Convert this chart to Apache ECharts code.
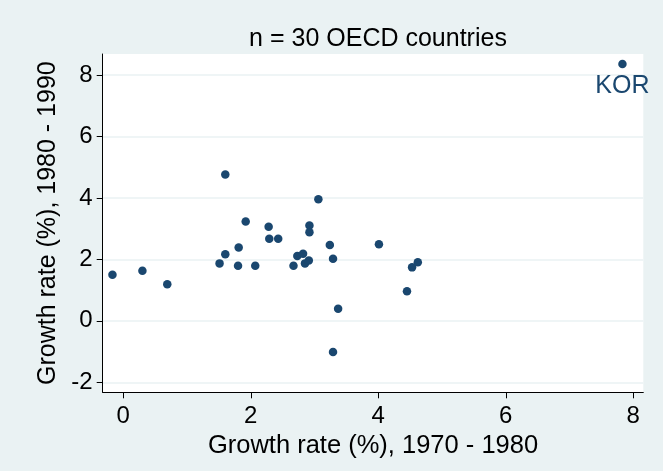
<!DOCTYPE html>
<html>
<head>
<meta charset="utf-8">
<style>
  html, body { margin: 0; padding: 0; background: #EAF2F3; }
  #chart { width: 663px; height: 471px; }
</style>
<script src="https://cdn.jsdelivr.net/npm/echarts@6/dist/echarts.min.js"></script>
</head>
<body>
<div id="chart"></div>
<script>
// Growth rate (%), 1970 - 1980
const growth7080 = [-0.17, 0.30, 0.69, 1.51, 1.60, 1.60, 1.80, 1.81, 1.92, 2.07,
                    2.28, 2.29, 2.43, 2.67, 2.73, 2.82, 2.85, 2.91, 2.92, 2.92,
                    3.06, 3.24, 3.29, 3.37, 3.29, 4.01, 4.45, 4.53, 4.62, 7.83];
// Growth rate (%), 1980 - 1990
const growth8090 = [1.50, 1.63, 1.19, 1.87, 4.76, 2.17, 1.79, 2.39, 3.23, 1.79,
                    3.06, 2.67, 2.67, 1.79, 2.11, 2.18, 1.87, 1.96, 3.10, 2.88,
                    3.96, 2.47, 2.02, 0.39, -1.01, 2.49, 0.96, 1.74, 1.91, 8.36];
// Point labels (only Korea is labelled)
const pointLabels = ['', '', '', '', '', '', '', '', '', '',
                     '', '', '', '', '', '', '', '', '', '',
                     '', '', '', '', '', '', '', '', '', 'KOR'];
const xTicks = [0, 2, 4, 6, 8];
const yTicks = [-2, 0, 2, 4, 6, 8];
const titleText = 'n = 30 OECD countries';
const xTitle = 'Growth rate (%), 1970 - 1980';
const yTitle = 'Growth rate (%), 1980 - 1990';

const FONT = 'Liberation Sans, Arial, Helvetica, sans-serif';
const NAVY = '#1a476f';

const points = growth7080.map((x, i) => ({
  value: [x, growth8090[i]],
  label: { show: pointLabels[i] !== '', formatter: pointLabels[i] }
}));

const chart = echarts.init(document.getElementById('chart'), null, { renderer: 'canvas' });
chart.setOption({
  backgroundColor: '#EAF2F3',
  animation: false,
  title: {
    text: titleText,
    left: 373,
    textAlign: 'center',
    top: 22,
    textStyle: { fontFamily: FONT, fontSize: 25, fontWeight: 'normal', color: '#000' }
  },
  grid: {
    left: 102.7, right: 19.7, top: 54, bottom: 78.7,
    show: true, backgroundColor: '#ffffff', borderWidth: 0
  },
  xAxis: {
    type: 'value',
    min: -0.323, max: 8.157,
    name: xTitle,
    nameLocation: 'middle',
    nameGap: 34,
    nameTextStyle: { fontFamily: FONT, fontSize: 25.5, color: '#000' },
    axisLine: { show: true, onZero: false, lineStyle: { color: '#000', width: 1 } },
    axisTick: { show: true, length: 6, customValues: xTicks, lineStyle: { color: '#000' } },
    axisLabel: { customValues: xTicks, margin: 12, fontFamily: FONT, fontSize: 24, color: '#000' },
    splitLine: { show: false }
  },
  yAxis: {
    type: 'value',
    min: -2.325, max: 8.683,
    name: yTitle,
    nameLocation: 'middle',
    nameGap: 42,
    nameTextStyle: { fontFamily: FONT, fontSize: 25, color: '#000' },
    axisLine: { show: true, onZero: false, lineStyle: { color: '#000', width: 1 } },
    axisTick: { show: true, length: 6, customValues: yTicks, lineStyle: { color: '#000' } },
    axisLabel: { customValues: yTicks, margin: 10, fontFamily: FONT, fontSize: 24, color: '#000' },
    splitLine: { show: true, lineStyle: { color: '#EAF2F3', width: 1.5 } }
  },
  series: [{
    type: 'scatter',
    data: points,
    symbol: 'circle',
    symbolSize: 8.5,
    itemStyle: { color: NAVY, opacity: 1 },
    label: {
      position: 'bottom',
      distance: 5,
      fontFamily: FONT,
      fontSize: 25,
      color: NAVY
    }
  }]
});
</script>
</body>
</html>
